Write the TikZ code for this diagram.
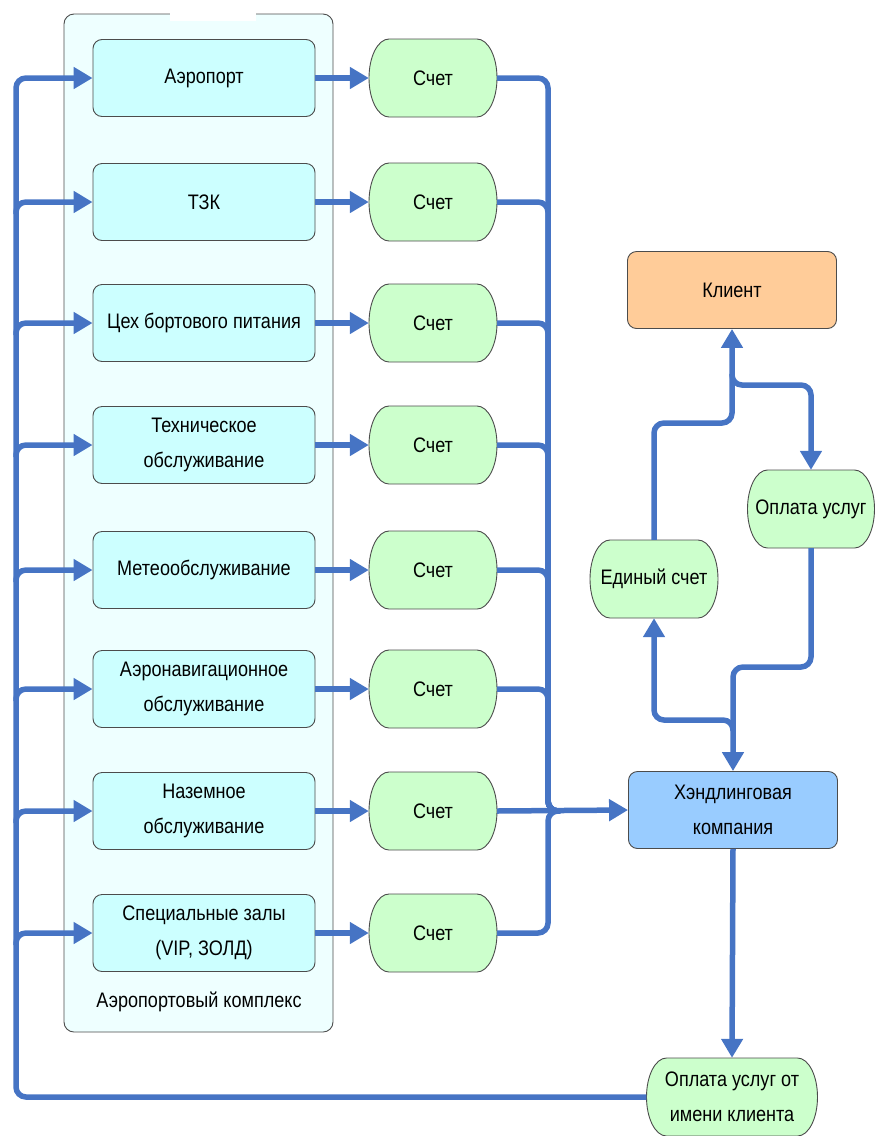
\documentclass[tikz,border=0pt]{standalone}
\usepackage{fontspec}
\setmainfont[FakeStretch=0.86]{Liberation Sans}
\usetikzlibrary{arrows.meta}
\definecolor{flowblue}{HTML}{4674C4}
\definecolor{svccyan}{HTML}{CCFFFF}
\definecolor{billgreen}{HTML}{CCFFCC}
\definecolor{clientorange}{HTML}{FFCC99}
\definecolor{handlblue}{HTML}{99CCFF}
\definecolor{complexbg}{HTML}{EEFFFF}

% name, x, y, half width, text
\newcommand\billnode[5]{%
  \filldraw[billline] (#2-#4+20,#3-39) -- (#2+#4-20,#3-39)
    arc[start angle=90,end angle=-90,x radius=20pt,y radius=39pt]
    -- (#2-#4+20,#3+39)
    arc[start angle=270,end angle=90,x radius=20pt,y radius=39pt] -- cycle;
  \node[billtxt,minimum width=2*#4] (#1) at (#2,#3) {#5};}

\begin{document}
\begin{tikzpicture}[x=1pt,y=-1pt,>={Triangle[length=19pt,width=21pt]},
  every node/.style={font=\fontsize{21}{35}\selectfont},
  svc/.style={draw=black!70,line width=0.9pt,fill=svccyan,rounded corners=9pt,
    minimum width=222pt,minimum height=77pt,align=center,inner sep=2pt},
  billline/.style={draw=black!70,line width=0.9pt,fill=billgreen},
  billtxt/.style={minimum height=78pt,align=center,inner sep=0pt},
  party/.style={draw=black!70,line width=0.9pt,rounded corners=9pt,
    minimum width=209pt,minimum height=77pt,align=center,inner sep=2pt},
  flow/.style={draw=flowblue,line width=5.5pt,rounded corners=10pt}]
  \useasboundingbox (0,0) rectangle (875,1136);

  % airport complex
  \draw[draw=black!70,line width=0.9pt,fill=complexbg,rounded corners=10pt]
    (64,14) rectangle (333,1032);
  \fill[white] (170,10) rectangle (256,21);
  \node (cx) at (199,1002) {Аэропортовый комплекс};

  \node[svc] (s1) at (204,78) {Аэропорт};
  \node[svc] (s2) at (204,202) {ТЗК};
  \node[svc] (s3) at (204,323) {Цех бортового питания};
  \node[svc] (s4) at (204,445) {Техническое\\обслуживание};
  \node[svc] (s5) at (204,570) {Метеообслуживание};
  \node[svc] (s6) at (204,689) {Аэронавигационное\\обслуживание};
  \node[svc] (s7) at (204,811) {Наземное\\обслуживание};
  \node[svc] (s8) at (204,933) {Специальные залы\\(VIP, ЗОЛД)};

  % bills
  \foreach \i/\y in {1/78,2/202,3/323,4/445,5/570,6/689,7/811,8/933}{
    \billnode{c\i}{433}{\y}{64}{Счет}
    \draw[flow,->] (s\i.east) -- (c\i.west);
  }

  % right part
  \node[party,fill=clientorange] (kl) at (732,290) {Клиент};
  \node[party,fill=handlblue] (hk) at (733,810) {Хэндлинговая\\компания};
  \billnode{ed}{654}{579}{64}{Единый счет}
  \billnode{op}{811}{509}{63.5}{Оплата услуг}
  \billnode{ok}{732}{1097}{85.5}{Оплата услуг от\\имени клиента}

  \coordinate (lb) at (16,0);
  \coordinate (rb) at (548,0);
  \coordinate (kj) at (0,423);
  \coordinate (kb) at (0,385);
  \coordinate (oj) at (0,667);
  \coordinate (hj) at (0,720);

  % bills to handling company
  \foreach \i in {1,...,6,8}
    \draw[flow] (c\i.east) -| (rb|-c7.east) -- ++(12,0);
  \draw[flow,->] (c7.east) -- (hk.west);

  % client loop
  \draw[flow,->] (ed.north) |- (kl.south|-kj) -- (kl.south);
  \draw[flow,->] (kl.south) ++(0,45) |- (op.north|-kb) -- (op.north);
  \draw[flow,->] (op.south) |- (hk.north|-oj) -- (hk.north);
  \draw[flow,->] (hk.north) ++(0,-40) |- (ed.south|-hj) -- (ed.south);
  \draw[flow,->] (hk.south) -- (ok.north);

  % payment back to services
  \draw[flow,->] (ok.west) -| (lb|-s1.west) -- (s1.west);
  \foreach \i in {2,...,8}
    \draw[flow,->] (lb|-s\i.west) ++(0,12) |- (s\i.west);
\end{tikzpicture}
\end{document}
